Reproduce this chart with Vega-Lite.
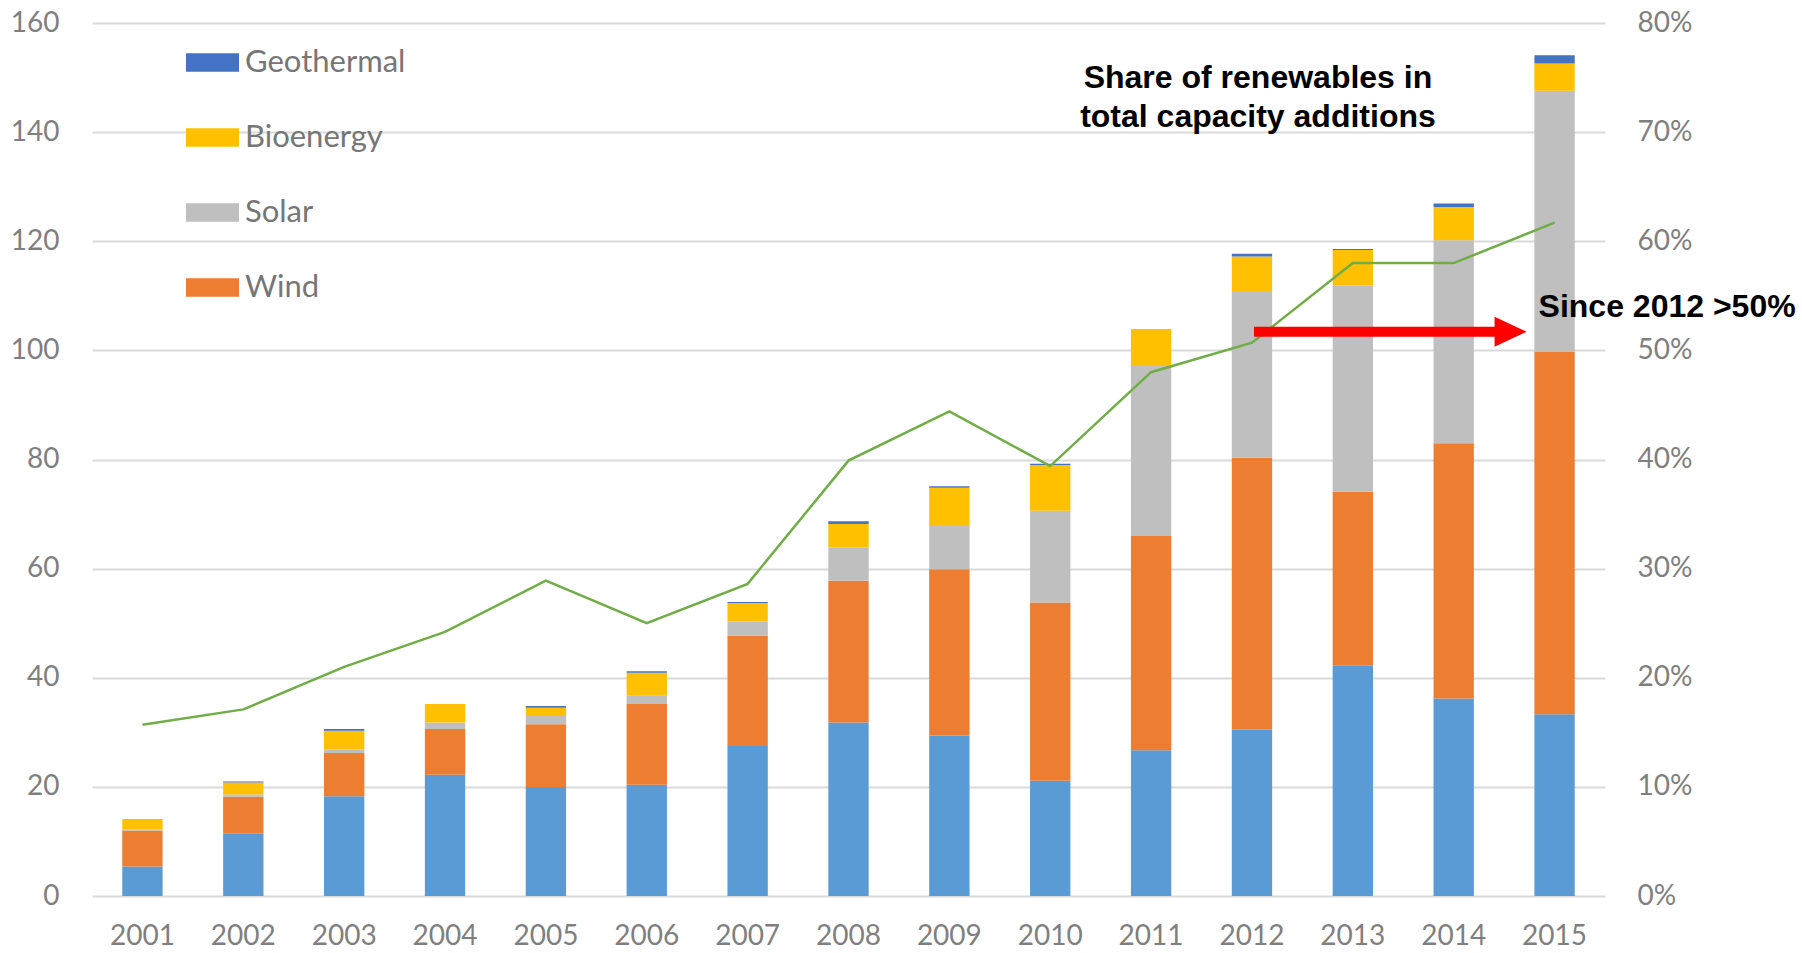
{
 "$schema": "https://vega.github.io/schema/vega-lite/v6.json",
 "width": 1513, "height": 873,
 "autosize": {"type": "none"},
 "padding": {"left": 92, "top": 23, "right": 197, "bottom": 57},
 "background": "white",
 "config": {"view": {"stroke": null}, "font": "Lato"},
 "datasets": {
  "bars": [
   {"year":"2001","type":"Hydro","k":1,"v":5.4},{"year":"2001","type":"Wind","k":2,"v":6.6},{"year":"2001","type":"Solar","k":3,"v":0.2},{"year":"2001","type":"Bioenergy","k":4,"v":1.9},{"year":"2001","type":"Geothermal","k":5,"v":0.0},
   {"year":"2002","type":"Hydro","k":1,"v":11.4},{"year":"2002","type":"Wind","k":2,"v":6.8},{"year":"2002","type":"Solar","k":3,"v":0.4},{"year":"2002","type":"Bioenergy","k":4,"v":2.2},{"year":"2002","type":"Geothermal","k":5,"v":0.2},
   {"year":"2003","type":"Hydro","k":1,"v":18.3},{"year":"2003","type":"Wind","k":2,"v":7.9},{"year":"2003","type":"Solar","k":3,"v":0.7},{"year":"2003","type":"Bioenergy","k":4,"v":3.4},{"year":"2003","type":"Geothermal","k":5,"v":0.3},
   {"year":"2004","type":"Hydro","k":1,"v":22.2},{"year":"2004","type":"Wind","k":2,"v":8.4},{"year":"2004","type":"Solar","k":3,"v":1.2},{"year":"2004","type":"Bioenergy","k":4,"v":3.4},{"year":"2004","type":"Geothermal","k":5,"v":0.0},
   {"year":"2005","type":"Hydro","k":1,"v":20.0},{"year":"2005","type":"Wind","k":2,"v":11.5},{"year":"2005","type":"Solar","k":3,"v":1.5},{"year":"2005","type":"Bioenergy","k":4,"v":1.5},{"year":"2005","type":"Geothermal","k":5,"v":0.3},
   {"year":"2006","type":"Hydro","k":1,"v":20.4},{"year":"2006","type":"Wind","k":2,"v":14.8},{"year":"2006","type":"Solar","k":3,"v":1.6},{"year":"2006","type":"Bioenergy","k":4,"v":4.1},{"year":"2006","type":"Geothermal","k":5,"v":0.3},
   {"year":"2007","type":"Hydro","k":1,"v":27.5},{"year":"2007","type":"Wind","k":2,"v":20.2},{"year":"2007","type":"Solar","k":3,"v":2.6},{"year":"2007","type":"Bioenergy","k":4,"v":3.4},{"year":"2007","type":"Geothermal","k":5,"v":0.2},
   {"year":"2008","type":"Hydro","k":1,"v":31.8},{"year":"2008","type":"Wind","k":2,"v":26.0},{"year":"2008","type":"Solar","k":3,"v":6.1},{"year":"2008","type":"Bioenergy","k":4,"v":4.3},{"year":"2008","type":"Geothermal","k":5,"v":0.5},
   {"year":"2009","type":"Hydro","k":1,"v":29.4},{"year":"2009","type":"Wind","k":2,"v":30.5},{"year":"2009","type":"Solar","k":3,"v":8.1},{"year":"2009","type":"Bioenergy","k":4,"v":6.8},{"year":"2009","type":"Geothermal","k":5,"v":0.3},
   {"year":"2010","type":"Hydro","k":1,"v":21.1},{"year":"2010","type":"Wind","k":2,"v":32.7},{"year":"2010","type":"Solar","k":3,"v":16.8},{"year":"2010","type":"Bioenergy","k":4,"v":8.4},{"year":"2010","type":"Geothermal","k":5,"v":0.2},
   {"year":"2011","type":"Hydro","k":1,"v":26.7},{"year":"2011","type":"Wind","k":2,"v":39.3},{"year":"2011","type":"Solar","k":3,"v":31.3},{"year":"2011","type":"Bioenergy","k":4,"v":6.6},{"year":"2011","type":"Geothermal","k":5,"v":0.0},
   {"year":"2012","type":"Hydro","k":1,"v":30.5},{"year":"2012","type":"Wind","k":2,"v":49.8},{"year":"2012","type":"Solar","k":3,"v":30.6},{"year":"2012","type":"Bioenergy","k":4,"v":6.3},{"year":"2012","type":"Geothermal","k":5,"v":0.5},
   {"year":"2013","type":"Hydro","k":1,"v":42.3},{"year":"2013","type":"Wind","k":2,"v":31.8},{"year":"2013","type":"Solar","k":3,"v":37.8},{"year":"2013","type":"Bioenergy","k":4,"v":6.5},{"year":"2013","type":"Geothermal","k":5,"v":0.2},
   {"year":"2014","type":"Hydro","k":1,"v":36.2},{"year":"2014","type":"Wind","k":2,"v":46.8},{"year":"2014","type":"Solar","k":3,"v":37.2},{"year":"2014","type":"Bioenergy","k":4,"v":6.1},{"year":"2014","type":"Geothermal","k":5,"v":0.6},
   {"year":"2015","type":"Hydro","k":1,"v":33.3},{"year":"2015","type":"Wind","k":2,"v":66.5},{"year":"2015","type":"Solar","k":3,"v":47.8},{"year":"2015","type":"Bioenergy","k":4,"v":5.0},{"year":"2015","type":"Geothermal","k":5,"v":1.5}
  ],
  "share": [
   {"year":"2001","share":0.157},{"year":"2002","share":0.171},{"year":"2003","share":0.210},{"year":"2004","share":0.242},{"year":"2005","share":0.289},
   {"year":"2006","share":0.250},{"year":"2007","share":0.286},{"year":"2008","share":0.399},{"year":"2009","share":0.444},{"year":"2010","share":0.394},
   {"year":"2011","share":0.480},{"year":"2012","share":0.507},{"year":"2013","share":0.580},{"year":"2014","share":0.580},{"year":"2015","share":0.617}
  ],
  "title": [
   {"label":"Share of renewables in","year":"2012","v":149.9},
   {"label":"total capacity additions","year":"2012","v":142.8}
  ],
  "note": [{"label":"Since 2012 >50%","year":"2015","v":108.0}],
  "arrow": [{"from":"2012","to":"2015","v":103.4}]
 },
 "resolve": {"scale": {"y": "independent"}},
 "layer": [
  {
   "data": {"name": "bars"},
   "mark": {"type": "bar"},
   "encoding": {
    "x": {"field": "year", "type": "ordinal", "scale": {"paddingInner": 0.6, "paddingOuter": 0.3},
          "axis": {"title": null, "labelAngle": 0, "domain": false, "ticks": false, "labelFontSize": 28, "labelColor": "#7F7F7F", "labelPadding": 26}},
    "y": {"field": "v", "type": "quantitative", "stack": "zero", "scale": {"domain": [0, 160], "nice": false},
          "axis": {"title": null, "values": [0,20,40,60,80,100,120,140,160], "domain": false, "ticks": false, "labelFontSize": 28, "labelColor": "#7F7F7F", "labelPadding": 33, "gridColor": "#D9D9D9", "gridWidth": 2}},
    "color": {"field": "type", "type": "nominal",
              "scale": {"domain": ["Hydro","Wind","Solar","Bioenergy","Geothermal"], "range": ["#5B9BD5","#ED7D31","#BFBFBF","#FFC000","#4472C4"]},
              "legend": {"values": ["Geothermal","Bioenergy","Solar","Wind"], "orient": "none", "legendX": 94, "legendY": 13, "title": null,
                         "symbolType": "M-1,-0.35H1V0.35H-1Z", "symbolSize": 2809, "symbolStrokeWidth": 0, "labelFontSize": 31, "labelLimit": 400, "labelColor": "#767676", "labelOffset": 6, "rowPadding": 33}},
    "order": {"field": "k", "type": "quantitative"}
   }
  },
  {
   "data": {"name": "share"},
   "mark": {"type": "line", "color": "#70AD47", "strokeWidth": 2.5},
   "encoding": {
    "x": {"field": "year", "type": "ordinal"},
    "y": {"field": "share", "type": "quantitative", "scale": {"domain": [0, 0.8], "nice": false},
          "axis": {"orient": "right", "title": null, "values": [0,0.1,0.2,0.3,0.4,0.5,0.6,0.7,0.8], "format": ".0%", "grid": false, "domain": false, "ticks": false, "labelFontSize": 28, "labelColor": "#7F7F7F", "labelPadding": 32}}
   }
  },
  {
   "data": {"name": "title"},
   "mark": {"type": "text", "font": "Liberation Sans", "fontWeight": "bold", "fontSize": 32, "color": "#000000", "align": "center", "baseline": "middle", "dx": 6},
   "encoding": {
    "x": {"field": "year", "type": "ordinal"},
    "y": {"field": "v", "type": "quantitative", "scale": {"domain": [0, 160], "nice": false}, "axis": null},
    "text": {"field": "label"}
   }
  },
  {
   "data": {"name": "note"},
   "mark": {"type": "text", "font": "Liberation Sans", "fontWeight": "bold", "fontSize": 32, "color": "#000000", "align": "left", "baseline": "middle", "dx": -16},
   "encoding": {
    "x": {"field": "year", "type": "ordinal"},
    "y": {"field": "v", "type": "quantitative", "scale": {"domain": [0, 160], "nice": false}, "axis": null},
    "text": {"field": "label"}
   }
  },
  {
   "data": {"name": "arrow"},
   "mark": {"type": "rule", "color": "#FF0000", "strokeWidth": 10, "strokeCap": "butt", "xOffset": 2, "x2Offset": -58},
   "encoding": {
    "x": {"field": "from", "type": "ordinal"},
    "x2": {"field": "to"},
    "y": {"field": "v", "type": "quantitative", "scale": {"domain": [0, 160], "nice": false}, "axis": null}
   }
  },
  {
   "data": {"name": "arrow"},
   "mark": {"type": "point", "shape": "M-1,-0.94L1,0L-1,0.94Z", "size": 1024, "filled": true, "opacity": 1, "color": "#FF0000", "strokeWidth": 0, "xOffset": -44},
   "encoding": {
    "x": {"field": "to", "type": "ordinal"},
    "y": {"field": "v", "type": "quantitative", "scale": {"domain": [0, 160], "nice": false}, "axis": null}
   }
  }
 ]
}
